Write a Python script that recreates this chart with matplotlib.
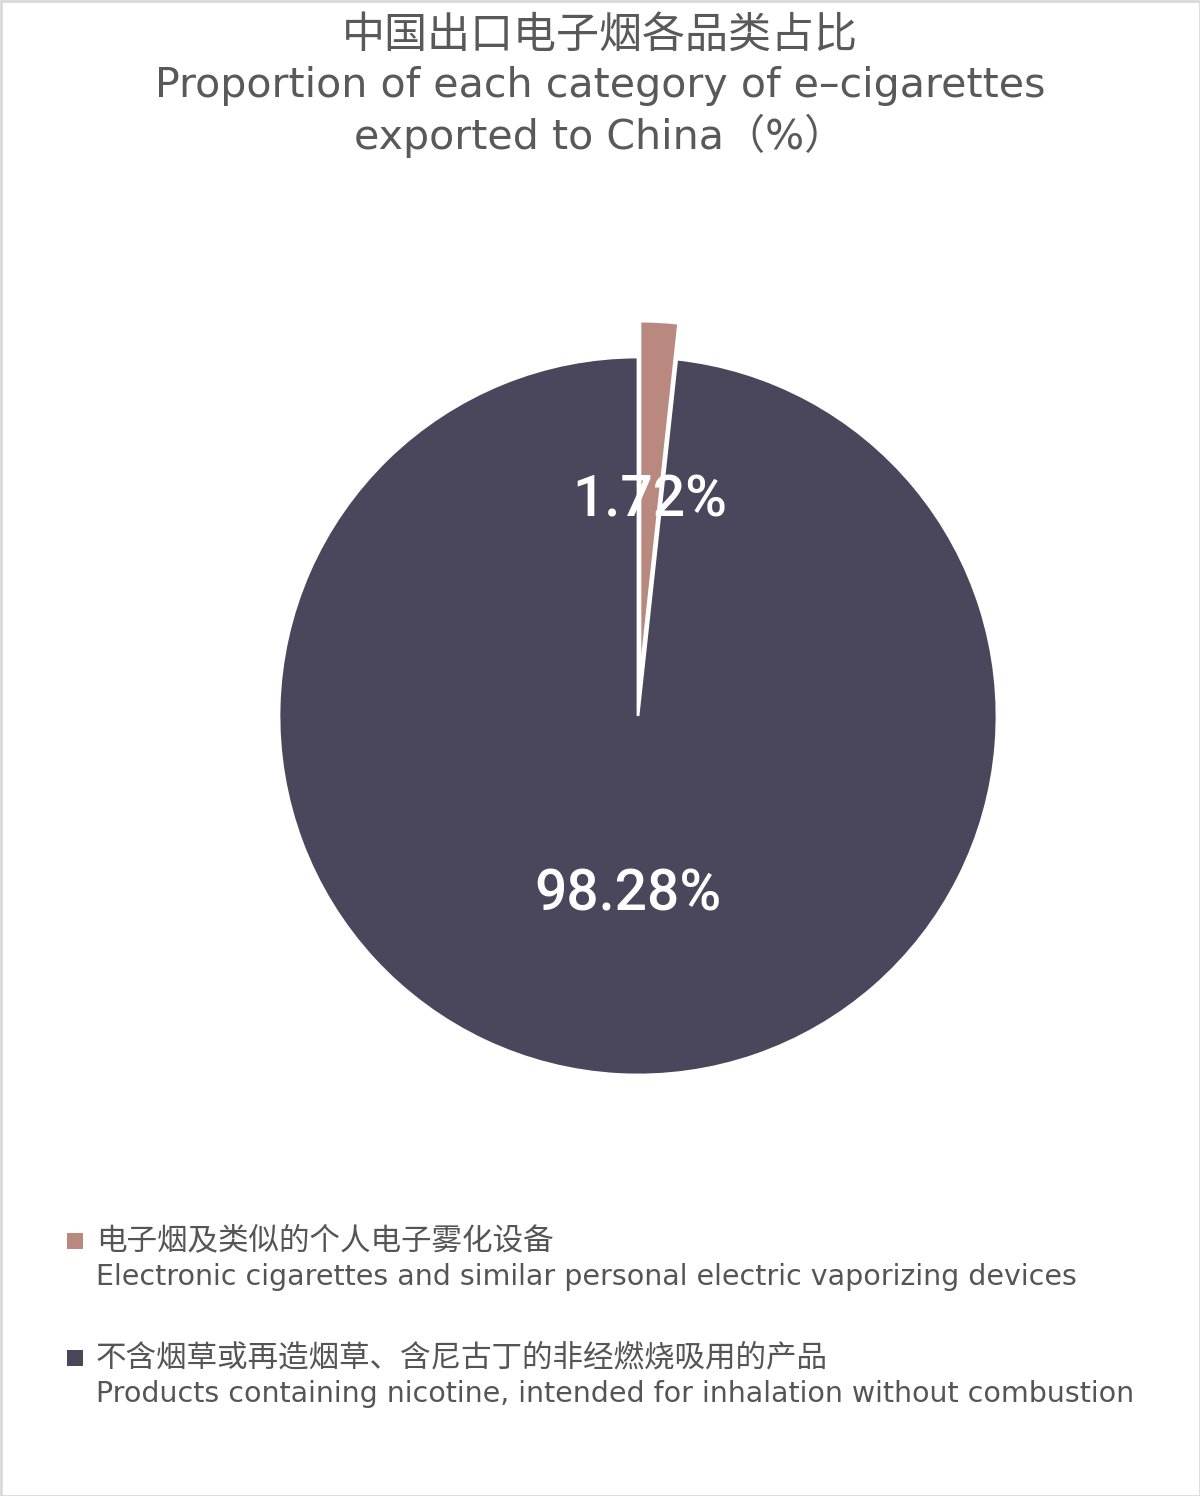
import matplotlib.pyplot as plt
from matplotlib.patches import Rectangle

plt.rcParams['font.family'] = ['Noto Sans CJK SC', 'DejaVu Sans']
latin = ['DejaVu Sans', 'Noto Sans CJK SC']

# data
labels_cn = ["电子烟及类似的个人电子雾化设备", "不含烟草或再造烟草、含尼古丁的非经燃烧吸用的产品"]
labels_en = ["Electronic cigarettes and similar personal electric vaporizing devices",
             "Products containing nicotine, intended for inhalation without combustion"]
shares = [1.72, 98.28]
colors = ["#B9897F", "#4A465B"]

W, H = 1200, 1496
fig = plt.figure(figsize=(W / 100, H / 100), dpi=100)
fig.patch.set_facecolor("white")

# pie axes: centre (638, 716) px, radius 359 px
R = 359
cx, cy = 638, 716
span = 1.2
ax = fig.add_axes([(cx - span * R) / W, (H - cy - span * R) / H, 2 * span * R / W, 2 * span * R / H])
ax.pie(shares, colors=colors, startangle=90, counterclock=False,
       explode=[0.1, 0], autopct="%.2f%%", pctdistance=0.5,
       wedgeprops=dict(edgecolor="white", linewidth=2),
       textprops=dict(color="white", fontsize=41, fontweight="medium",
                      family=['Roboto', 'DejaVu Sans']))
ax.set_xlim(-span, span)
ax.set_ylim(-span, span)
ax.set_aspect("equal")
ax.axis("off")

# title
tcol = "#595959"
fig.text(0.5, 1 - 36 / H, "中国出口电子烟各品类占比", ha="center", va="center",
         fontsize=31, color=tcol)
fig.text(0.5, 1 - 86 / H, "Proportion of each category of e\u2013cigarettes", ha="center", va="center",
         fontsize=29.6, color=tcol, family=latin)
fig.text(0.5, 1 - 136 / H, "exported to China\uff08%\uff09", ha="center", va="center",
         fontsize=29.6, color=tcol, family=latin)

# legend
for i, (cn, en, c) in enumerate(zip(labels_cn, labels_en, colors)):
    y0 = 1241 + i * 117
    fig.patches.append(Rectangle((67 / W, 1 - (y0 + 8) / H), 16 / W, 16 / H,
                                 transform=fig.transFigure, facecolor=c, edgecolor="none"))
    fig.text(96 / W, 1 - y0 / H, cn, ha="left", va="center", fontsize=22, color="#555555")
    fig.text(96 / W, 1 - (y0 + 36) / H, en, ha="left", va="center", fontsize=20.5, color="#555555",
             family=latin)

# border
fig.patches.append(Rectangle((0.5 / W, 0.5 / H), 1 - 1 / W, 1 - 1 / H, transform=fig.transFigure,
                             fill=False, edgecolor="#d9d9d9", linewidth=2))

fig.savefig("out.png", dpi=100)
